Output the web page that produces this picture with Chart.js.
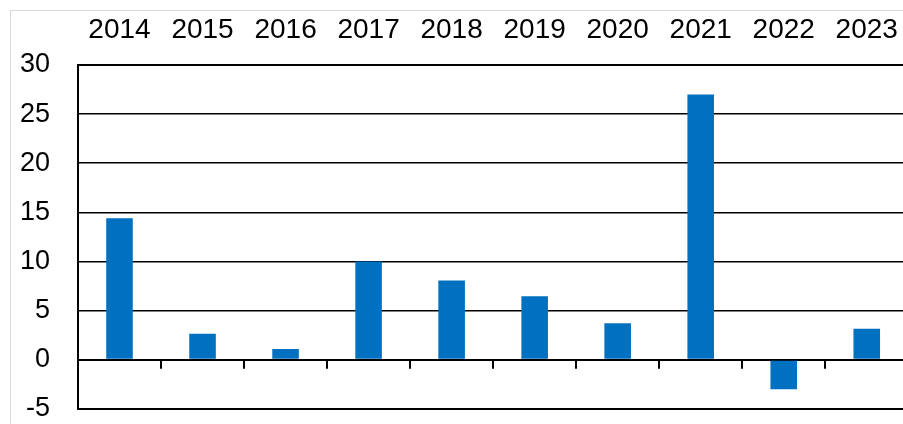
<!DOCTYPE html>
<html>
<head>
<meta charset="utf-8">
<script src="https://cdn.jsdelivr.net/npm/chart.js@4"></script>
<style>
  html, body { margin: 0; padding: 0; background: #ffffff; overflow: hidden; }
  #frame { position: absolute; left: 10px; top: 10px; width: 1000px; height: 1000px; border: 1px solid #d9d9d9; box-sizing: border-box; }
  #wrap { position: absolute; left: 0; top: 0; width: 916px; height: 453px; }
</style>
</head>
<body>
<div id="frame"></div>
<div id="wrap"><canvas id="c"></canvas></div>
<script>
const categories = ['2014', '2015', '2016', '2017', '2018', '2019', '2020', '2021', '2022', '2023'];
const values = [14.4, 2.65, 1.1, 10.0, 8.05, 6.45, 3.7, 27.0, -3.0, 3.15];
const yTicks = [-5, 0, 5, 10, 15, 20, 25, 30];

const zeroTicks = {
  id: 'zeroTicks',
  afterDatasetsDraw(chart) {
    const x = chart.scales.x, y = chart.scales.y;
    const ctx = chart.ctx;
    const y0 = y.getPixelForValue(0);
    ctx.save();
    ctx.strokeStyle = '#000000';
    ctx.lineWidth = 2;
    for (let i = 1; i < categories.length; i++) {
      const xb = (x.getPixelForValue(i - 1) + x.getPixelForValue(i)) / 2;
      ctx.beginPath();
      ctx.moveTo(Math.round(xb), y0);
      ctx.lineTo(Math.round(xb), y0 + 9);
      ctx.stroke();
    }
    ctx.restore();
  }
};

new Chart(document.getElementById('c'), {
  type: 'bar',
  data: {
    labels: categories,
    datasets: [{
      data: values,
      backgroundColor: '#0070C0',
      borderWidth: 0,
      categoryPercentage: 1.0,
      barPercentage: 0.32
    }]
  },
  options: {
    responsive: true,
    maintainAspectRatio: false,
    animation: false,
    layout: { padding: { left: 0, right: 2, top: 0, bottom: 15 } },
    plugins: { legend: { display: false }, tooltip: { enabled: false } },
    scales: {
      x: {
        position: 'top',
        offset: true,
        grid: { display: false, drawTicks: false },
        border: { display: false },
        ticks: {
          color: '#000000',
          font: { family: 'Liberation Sans', size: 28 },
          padding: 18,
          maxRotation: 0,
          autoSkip: false
        },
        afterFit(s) { s.height = 65; }
      },
      y: {
        min: -5,
        max: 30,
        afterBuildTicks(s) { s.ticks = yTicks.map(v => ({ value: v })); },
        grid: {
          color: '#000000',
          lineWidth: ctx => (ctx.tick && (ctx.tick.value === 0 || ctx.tick.value === 30 || ctx.tick.value === -5)) ? 2 : 1.5,
          drawTicks: false
        },
        border: { display: true, color: '#000000', width: 2 },
        ticks: {
          color: '#000000',
          font: { family: 'Liberation Sans', size: 27 },
          padding: 28
        },
        afterFit(s) { s.width = 78; }
      }
    }
  },
  plugins: [zeroTicks]
});
</script>
</body>
</html>
